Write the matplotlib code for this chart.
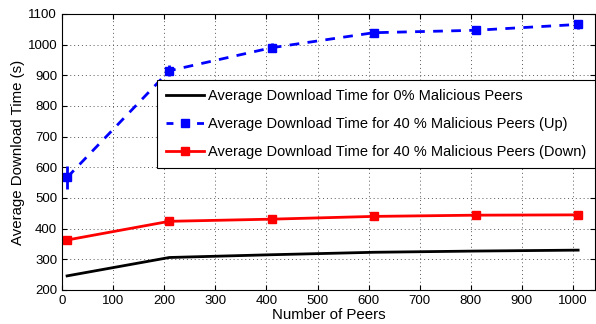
import matplotlib
matplotlib.use('Agg')
import matplotlib.pyplot as plt
from matplotlib.lines import Line2D

plt.rcParams['font.family'] = ['Liberation Sans', 'DejaVu Sans']

peers = [10, 210, 410, 610, 810, 1010]
t_clean = [246, 306, 315, 323, 327, 330]
t_up = [567, 915, 990, 1039, 1047, 1066]
t_up_err = [37, 18, 14, 12, 10, 14]
t_down = [363, 424, 431, 440, 444, 445]
t_down_err = [6, 5, 5, 5, 5, 5]

labels = ['Average Download Time for 0% Malicious Peers',
          'Average Download Time for 40 % Malicious Peers (Up)',
          'Average Download Time for 40 % Malicious Peers (Down)']

fig = plt.figure(figsize=(5.96, 3.24), dpi=100)
ax = fig.add_axes([62 / 596, 34 / 324, 533 / 596, 276 / 324])

ax.plot(peers, t_clean, color='black', lw=2)
ax.errorbar(peers, t_up, yerr=t_up_err, color='blue', ls='--', lw=2,
            marker='s', ms=6, dashes=(3.5, 3))
ax.errorbar(peers, t_down, yerr=t_down_err, color='red', lw=2,
            marker='s', ms=6)

ax.set_xlim(0, 1043)
ax.set_ylim(200, 1100)
ax.set_xticks(range(0, 1001, 100))
ax.set_yticks(range(200, 1101, 100))
ax.tick_params(direction='in', top=True, right=True, labelsize=9.5)
ax.grid(True, ls=(0, (1, 3)), color='0.35', lw=0.7)
ax.set_xlabel('Number of Peers', fontsize=10.8, labelpad=1)
ax.set_ylabel('Average Download Time (s)', fontsize=10.8, labelpad=2)

handles = [Line2D([], [], color='black', lw=2),
           Line2D([], [], color='blue', lw=2, ls='--', dashes=(2.5, 3), marker='s', ms=6),
           Line2D([], [], color='red', lw=2, marker='s', ms=6)]
leg = ax.legend(handles, labels, loc='upper left', bbox_to_anchor=(0.178, 0.76),
                fontsize=10.5, fancybox=False, framealpha=1, edgecolor='black',
                handlelength=2.6, handletextpad=0.3, borderaxespad=0,
                borderpad=0.6, labelspacing=0.97)
leg.get_frame().set_linewidth(0.8)

fig.savefig('out.png', dpi=100)
